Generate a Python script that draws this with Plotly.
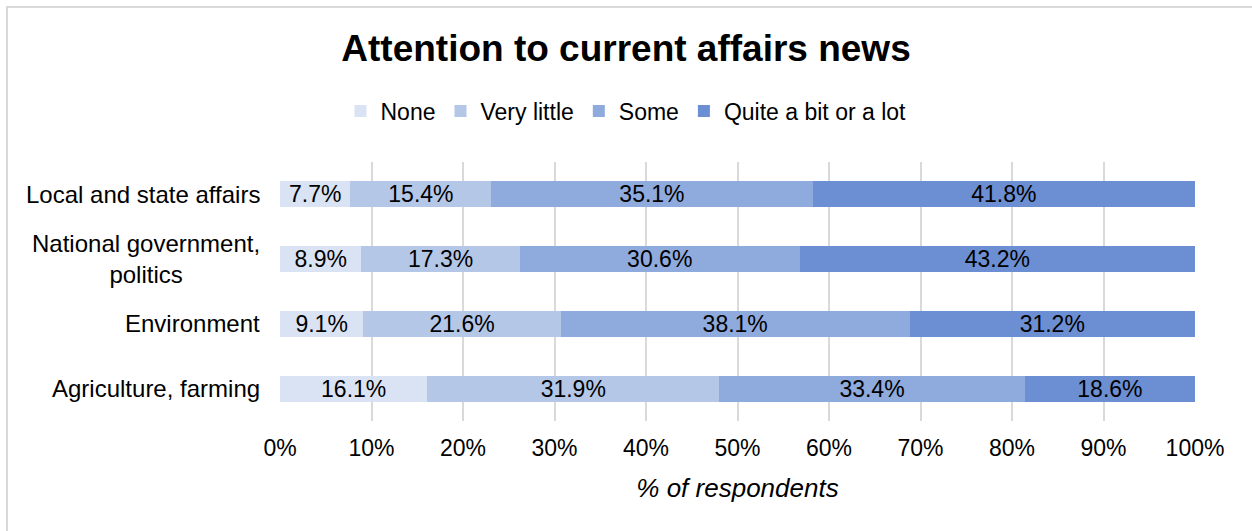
import plotly.graph_objects as go

# Survey results: share of respondents by level of attention to each news topic
categories = [
    "Local and state affairs",
    "National government,<br>politics",
    "Environment",
    "Agriculture, farming",
]
series_names = ["None", "Very little", "Some", "Quite a bit or a lot"]
none_vals = [7.7, 8.9, 9.1, 16.1]
very_little_vals = [15.4, 17.3, 21.6, 31.9]
some_vals = [35.1, 30.6, 38.1, 33.4]
quite_a_lot_vals = [41.8, 43.2, 31.2, 18.6]
x_ticks = [0, 10, 20, 30, 40, 50, 60, 70, 80, 90, 100]

colors = ["#DAE3F3", "#B4C7E7", "#8FAADC", "#6C8ED2"]
FONT = "Liberation Sans, Arial, sans-serif"

W, H = 1252, 531
ML, MR, MT, MB = 280, 57, 162, 110

fig = go.Figure()
for name, vals, col in zip(
    series_names,
    [none_vals, very_little_vals, some_vals, quite_a_lot_vals],
    colors,
):
    fig.add_trace(
        go.Bar(
            name=name,
            y=categories,
            x=vals,
            orientation="h",
            marker=dict(color=col, line=dict(width=0)),
            text=[f"{v:.1f}%" for v in vals],
            textposition="inside",
            insidetextanchor="middle",
            textangle=0,
            constraintext="none",
            textfont=dict(family=FONT, size=23, color="#000000"),
            hoverinfo="skip",
        )
    )

# Category labels, centred line by line and right-aligned against the axis
for cat in categories:
    fig.add_annotation(
        x=0, xref="paper", xanchor="right", xshift=-18,
        y=cat, yref="y", yanchor="middle",
        text=cat, showarrow=False, align="center",
        font=dict(family=FONT, size=24, color="#000000"),
    )

# Light outer frame of the chart
px_w = W - ML - MR
px_h = H - MT - MB
fig.add_shape(
    type="rect", xref="paper", yref="paper",
    x0=(7 - ML) / px_w, x1=1.2,
    y0=-0.6, y1=(H - MB - 7) / px_h,
    line=dict(color="#D9D9D9", width=2), fillcolor="rgba(0,0,0,0)", layer="below",
)

fig.update_layout(
    width=W, height=H,
    margin=dict(l=ML, r=MR, t=MT, b=MB),
    paper_bgcolor="white", plot_bgcolor="white",
    barmode="stack", bargap=0.6,
    uniformtext=dict(minsize=23, mode="show"),
    font=dict(family=FONT, color="#000000"),
    title=dict(
        text="<b>Attention to current affairs news</b>",
        x=0.5, xanchor="center", xref="container",
        y=1 - 48 / H, yanchor="middle", yref="container",
        font=dict(family=FONT, size=37, color="#000000"),
    ),
    legend=dict(
        orientation="h",
        x=0.5, xanchor="center", xref="container",
        y=1 - 111 / H, yanchor="middle", yref="container",
        font=dict(family=FONT, size=23, color="#000000"),
        traceorder="normal",
        itemwidth=30,
        itemclick=False, itemdoubleclick=False,
    ),
    xaxis=dict(
        range=[0, 100],
        tickvals=x_ticks,
        ticktext=[f"{t}%" for t in x_ticks],
        tickfont=dict(family=FONT, size=23, color="#000000"),
        ticklabelstandoff=11,
        showgrid=True, gridcolor="#D9D9D9", gridwidth=2,
        zeroline=False, showline=False, ticks="",
        title=dict(
            text="<i>% of respondents</i>",
            font=dict(family=FONT, size=26, color="#000000"),
            standoff=18,
        ),
        fixedrange=True,
    ),
    yaxis=dict(
        autorange="reversed",
        showticklabels=False,
        showgrid=False, zeroline=False, showline=False, ticks="",
        fixedrange=True,
    ),
    showlegend=True,
)

fig.write_html("out.html")
